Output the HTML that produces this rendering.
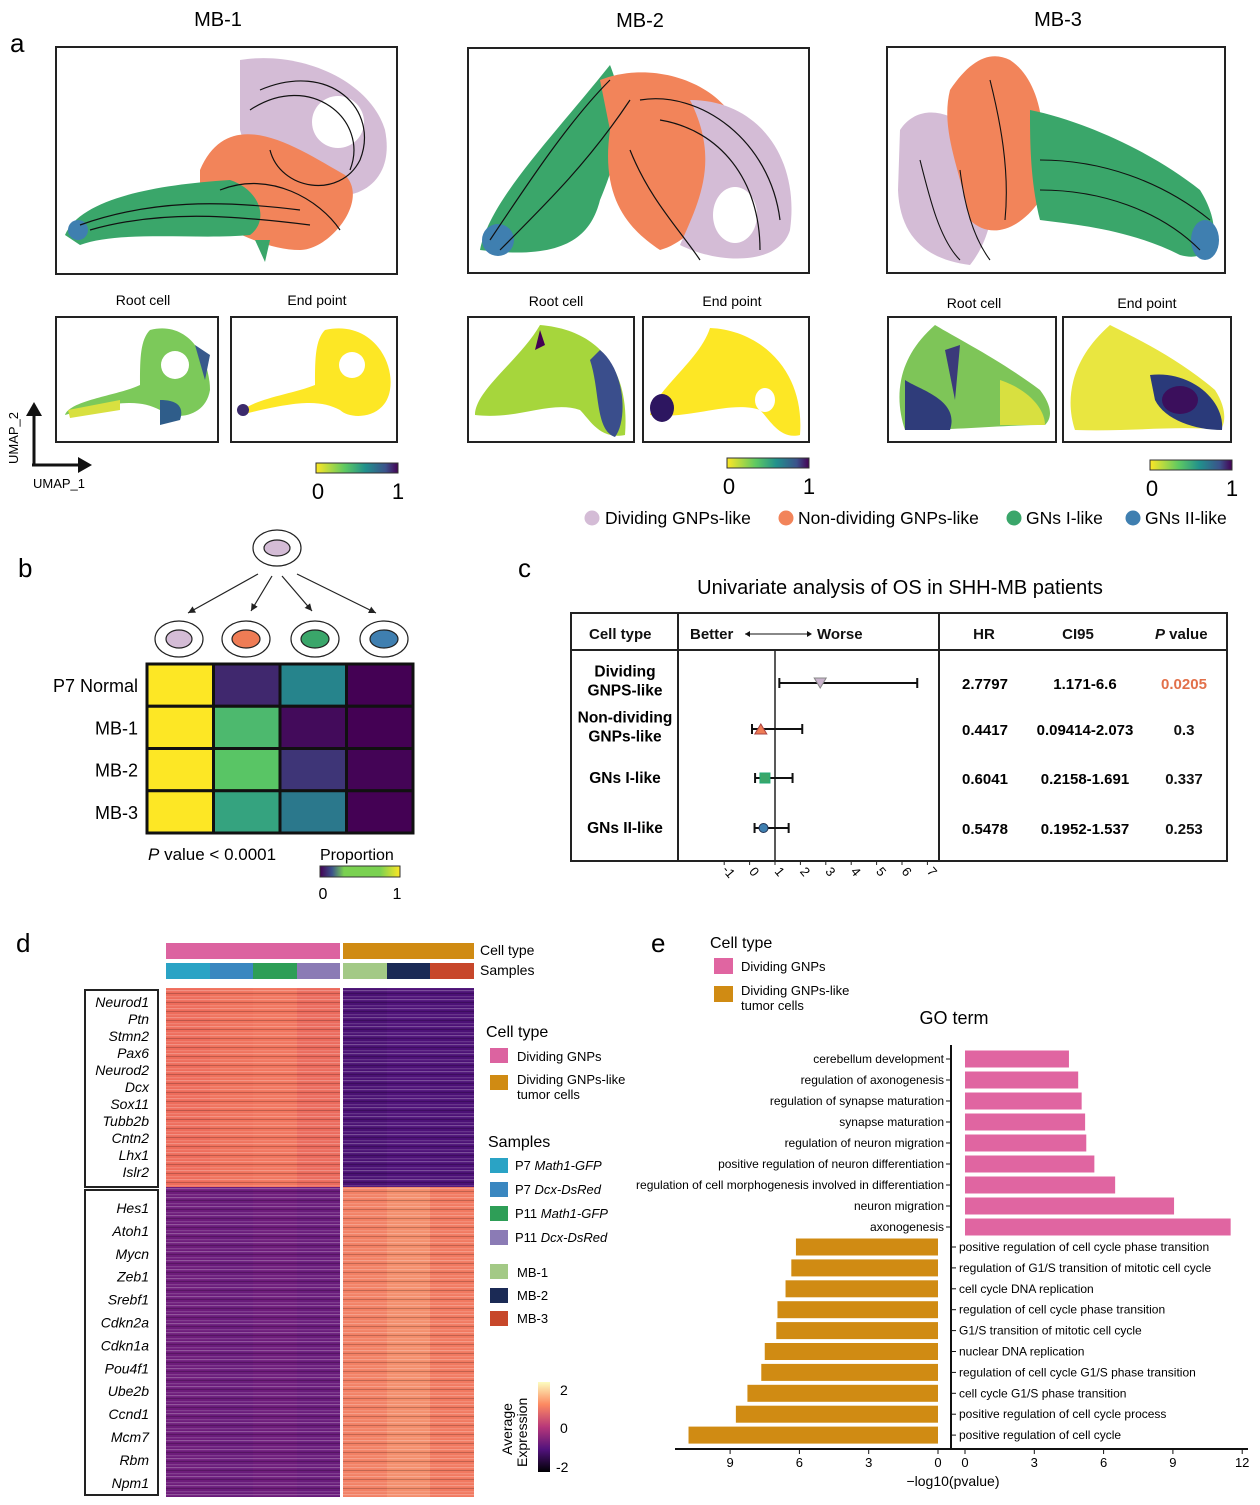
<!DOCTYPE html>
<html><head><meta charset="utf-8"><style>
body{margin:0;background:#fff;}
svg{display:block;font-family:"Liberation Sans",Arial,sans-serif;}
</style></head><body>
<svg id="fig" width="1260" height="1505" viewBox="0 0 1260 1505" xmlns="http://www.w3.org/2000/svg">
<defs>
<linearGradient id="vir" x1="0" x2="1"><stop offset="0" stop-color="#fde725"/><stop offset="0.35" stop-color="#5ec962"/><stop offset="0.6" stop-color="#21918c"/><stop offset="0.85" stop-color="#3b528b"/><stop offset="1" stop-color="#440154"/></linearGradient>
<linearGradient id="virb" x1="0" x2="1"><stop offset="0" stop-color="#440154"/><stop offset="0.15" stop-color="#3b528b"/><stop offset="0.3" stop-color="#7ad151"/><stop offset="0.75" stop-color="#7ad151"/><stop offset="1" stop-color="#fde725"/></linearGradient>
<linearGradient id="mag" x1="0" y1="1" x2="0" y2="0"><stop offset="0" stop-color="#000004"/><stop offset="0.25" stop-color="#51127c"/><stop offset="0.5" stop-color="#b73779"/><stop offset="0.75" stop-color="#fc8961"/><stop offset="1" stop-color="#fcfdbf"/></linearGradient>
<pattern id="stripes" width="10" height="9" patternUnits="userSpaceOnUse"><rect x="0" y="0" width="10" height="1.2" fill="#fff" opacity="0.25"/><rect x="0" y="3" width="10" height="1" fill="#000" opacity="0.2"/><rect x="0" y="6" width="10" height="1.3" fill="#fff" opacity="0.15"/></pattern>
<marker id="ah" markerWidth="8" markerHeight="8" refX="6" refY="3" orient="auto"><path d="M0,0 L6,3 L0,6 z" fill="#222"/></marker>
</defs>

<!-- Panel a -->
<g font-size="20">
<text x="10" y="52" font-size="26">a</text>
<text x="218" y="26" text-anchor="middle">MB-1</text>
<text x="640" y="27" text-anchor="middle">MB-2</text>
<text x="1058" y="26" text-anchor="middle">MB-3</text>

<g>
<rect x="56" y="47" width="341" height="227" fill="#fff" stroke="#222" stroke-width="2"/>
<path d="M240,60 C300,50 370,80 385,130 C395,180 360,200 330,195 C300,190 250,170 240,130 Z" fill="#d4bcd6"/>
<path d="M200,170 C230,100 300,150 345,175 C370,200 330,250 300,250 C270,250 240,235 200,215 Z" fill="#f2845a"/>
<path d="M65,235 C80,200 150,185 230,180 C260,190 270,220 250,235 C200,240 120,230 80,245 Z" fill="#3aa66a"/>
<circle cx="78" cy="230" r="10" fill="#3f7fb0"/>
<path d="M255,240 L265,262 L270,240 Z" fill="#3aa66a"/>
<circle cx="338" cy="122" r="26" fill="#fff"/>
<g fill="none" stroke="#111" stroke-width="1.2">
<path d="M80,225 C150,200 220,200 300,210"/><path d="M90,230 C160,210 230,215 310,225"/><path d="M260,90 C330,60 380,110 360,160 C340,200 280,190 270,150"/><path d="M250,110 C310,70 370,120 350,170"/><path d="M220,190 C270,170 320,200 340,230"/>
</g></g>

<g>
<rect x="468" y="48" width="341" height="225" fill="#fff" stroke="#222" stroke-width="2"/>
<path d="M480,250 C490,200 550,140 610,65 C620,90 630,130 600,200 C590,240 560,260 480,250 Z" fill="#3aa66a"/>
<path d="M600,80 C650,60 720,80 740,130 C745,170 700,240 660,250 C630,230 600,200 610,130 Z" fill="#f2845a"/>
<path d="M690,100 C760,100 800,160 790,230 C780,265 720,265 680,245 C700,200 720,160 690,100 Z" fill="#d4bcd6"/>
<ellipse cx="735" cy="215" rx="22" ry="28" fill="#fff"/>
<ellipse cx="498" cy="240" rx="16" ry="16" fill="#3f7fb0"/>
<g fill="none" stroke="#111" stroke-width="1.2">
<path d="M490,240 C530,180 570,120 610,80"/><path d="M500,250 C550,200 590,160 630,100"/><path d="M640,100 C700,90 770,140 780,220"/><path d="M660,120 C720,130 760,180 760,250"/><path d="M630,150 C650,200 680,230 700,260"/>
</g></g>

<g>
<rect x="887" y="47" width="338" height="226" fill="#fff" stroke="#222" stroke-width="2"/>
<path d="M900,130 C920,100 960,110 990,150 C1000,200 990,240 970,265 C930,260 900,240 898,190 Z" fill="#d4bcd6"/>
<path d="M950,90 C970,60 990,50 1010,60 C1040,80 1050,130 1040,200 C1020,230 990,240 970,220 C960,170 940,130 950,90 Z" fill="#f2845a"/>
<path d="M1030,110 C1080,120 1150,150 1200,190 C1225,230 1215,265 1180,255 C1130,230 1080,225 1040,220 C1030,180 1030,140 1030,110 Z" fill="#3aa66a"/>
<ellipse cx="1205" cy="240" rx="14" ry="20" fill="#3f7fb0"/>
<g fill="none" stroke="#111" stroke-width="1.1">
<path d="M1040,160 C1100,160 1160,180 1210,220"/><path d="M1040,190 C1100,190 1160,210 1200,250"/><path d="M990,80 C1000,120 1010,170 1005,220"/><path d="M920,160 C930,200 940,240 960,260"/><path d="M960,170 C965,210 975,240 990,260"/>
</g></g>

<g font-size="14" text-anchor="middle">
<text x="143" y="305">Root cell</text>
<text x="317" y="305">End point</text>
<text x="556" y="306">Root cell</text>
<text x="732" y="306">End point</text>
<text x="974" y="308">Root cell</text>
<text x="1147" y="308">End point</text>
</g>

<g><rect x="56" y="317" width="162" height="125" fill="#fff" stroke="#222" stroke-width="2"/>
<path d="M150,330 C190,320 210,360 210,390 C205,420 170,420 160,410 C140,400 120,400 65,415 C70,400 120,395 140,385 C140,360 140,340 150,330 Z" fill="#7cc95a"/><circle cx="175" cy="365" r="14" fill="#fff"/><path d="M160,400 C175,400 185,405 180,420 L160,425 Z" fill="#2f5d8a"/><path d="M195,345 L210,355 L205,380 Z" fill="#38598c"/><path d="M68,410 L120,400 L120,410 L70,418 Z" fill="#d8e040"/></g>
<g><rect x="231" y="317" width="166" height="125" fill="#fff" stroke="#222" stroke-width="2"/>
<path d="M325,330 C370,320 395,360 390,390 C385,420 350,420 340,410 C320,400 300,400 240,415 C245,400 290,395 315,385 C315,360 315,340 325,330 Z" fill="#fde725"/><circle cx="352" cy="365" r="13" fill="#fff"/><circle cx="243" cy="410" r="6" fill="#3b2a6b"/></g>

<g><rect x="468" y="317" width="166" height="125" fill="#fff" stroke="#222" stroke-width="2"/>
<path d="M540,325 C600,330 630,370 625,435 C600,440 590,420 580,410 C550,400 520,420 475,415 C475,390 520,360 540,325 Z" fill="#a6d63c"/><path d="M600,350 C625,370 628,420 615,437 C595,430 600,390 590,360 Z" fill="#3a4e8c"/><path d="M540,330 L545,345 L535,350 Z" fill="#440154"/></g>
<g><rect x="643" y="317" width="166" height="125" fill="#fff" stroke="#222" stroke-width="2"/>
<path d="M710,328 C760,330 805,370 800,435 C780,440 770,420 760,410 C730,400 690,420 650,415 C655,390 700,360 710,328 Z" fill="#fde725"/><ellipse cx="662" cy="408" rx="12" ry="14" fill="#2d1660"/><ellipse cx="765" cy="400" rx="10" ry="12" fill="#fff"/></g>

<g><rect x="888" y="317" width="168" height="125" fill="#fff" stroke="#222" stroke-width="2"/>
<path d="M935,325 C960,340 1000,360 1040,390 C1055,410 1050,420 1045,425 C1000,425 960,430 905,430 C895,400 895,360 935,325 Z" fill="#7ec558"/><path d="M905,380 C920,390 960,400 950,430 L905,430 Z" fill="#2f3c7a"/><path d="M1000,380 C1030,390 1045,410 1045,425 L1000,425 Z" fill="#d8e040"/><path d="M945,350 L960,345 L955,400 Z" fill="#3b3a7a"/></g>
<g><rect x="1063" y="317" width="168" height="125" fill="#fff" stroke="#222" stroke-width="2"/>
<path d="M1110,325 C1140,340 1180,360 1215,390 C1228,410 1225,425 1220,430 C1180,425 1130,432 1075,430 C1065,400 1070,360 1110,325 Z" fill="#e9e640"/><path d="M1150,375 C1190,370 1225,400 1222,430 C1195,430 1165,420 1155,400 Z" fill="#2a3a7a"/><ellipse cx="1180" cy="400" rx="18" ry="14" fill="#3b0f5c"/></g>

<g>
<line x1="34" y1="465" x2="34" y2="412" stroke="#111" stroke-width="3"/><path d="M26,416 L34,402 L42,416 Z" fill="#111"/>
<line x1="32" y1="465" x2="80" y2="465" stroke="#111" stroke-width="3"/><path d="M78,457 L92,465 L78,473 Z" fill="#111"/>
<text x="18" y="464" font-size="13" transform="rotate(-90 18 464)">UMAP_2</text>
<text x="33" y="488" font-size="13">UMAP_1</text></g>

<g><rect x="316" y="463" width="82" height="10" fill="url(#vir)" stroke="#333"/><text x="318" y="499" font-size="22" text-anchor="middle">0</text><text x="398" y="499" font-size="22" text-anchor="middle">1</text></g>
<g><rect x="727" y="458" width="82" height="10" fill="url(#vir)" stroke="#333"/><text x="729" y="494" font-size="22" text-anchor="middle">0</text><text x="809" y="494" font-size="22" text-anchor="middle">1</text></g>
<g><rect x="1150" y="460" width="82" height="10" fill="url(#vir)" stroke="#333"/><text x="1152" y="496" font-size="22" text-anchor="middle">0</text><text x="1232" y="496" font-size="22" text-anchor="middle">1</text></g>

<g font-size="17.5">
<circle cx="592" cy="518" r="7.5" fill="#d4bcd6"/><text x="605" y="524">Dividing GNPs-like</text>
<circle cx="786" cy="518" r="7.5" fill="#f2845a"/><text x="798" y="524">Non-dividing GNPs-like</text>
<circle cx="1014" cy="518" r="7.5" fill="#3aa66a"/><text x="1026" y="524">GNs I-like</text>
<circle cx="1133" cy="518" r="7.5" fill="#3f7fb0"/><text x="1145" y="524">GNs II-like</text>
</g>
</g>

<!-- Panel b -->
<g id="panelb">
<text x="18" y="577" font-size="26">b</text>
<g stroke="#222" fill="none" stroke-width="1.2">
<ellipse cx="277" cy="548" rx="24" ry="18"/><ellipse cx="277" cy="548" rx="13" ry="8" fill="#d4bcd6"/>
<line x1="258" y1="574" x2="188" y2="613" marker-end="url(#ah)"/><line x1="272" y1="576" x2="251" y2="611" marker-end="url(#ah)"/><line x1="282" y1="576" x2="312" y2="611" marker-end="url(#ah)"/><line x1="297" y1="574" x2="376" y2="613" marker-end="url(#ah)"/>
<ellipse cx="179" cy="639" rx="24" ry="18"/><ellipse cx="179" cy="639" rx="13" ry="9" fill="#d4bcd6"/>
<ellipse cx="246" cy="639" rx="24" ry="18"/><ellipse cx="246" cy="639" rx="14" ry="9" fill="#ef7c55"/>
<ellipse cx="315" cy="639" rx="24" ry="18"/><ellipse cx="315" cy="639" rx="14" ry="9" fill="#3aa66a"/>
<ellipse cx="384" cy="639" rx="24" ry="18"/><ellipse cx="384" cy="639" rx="14" ry="9" fill="#3f7fb0"/>
</g>
<g id="bheat"></g>
<text x="148" y="860" font-size="17"><tspan font-style="italic">P</tspan> value &lt; 0.0001</text>
<g><text x="320" y="860" font-size="16">Proportion</text><rect x="320" y="866" width="80" height="11" fill="url(#virb)" stroke="#333"/><text x="323" y="899" font-size="16" text-anchor="middle">0</text><text x="397" y="899" font-size="16" text-anchor="middle">1</text></g>
</g>

<!-- Panel c -->
<g id="panelc">
<text x="518" y="577" font-size="26">c</text>
<text x="900" y="594" font-size="20" text-anchor="middle">Univariate analysis of OS in SHH-MB patients</text>
<rect x="571" y="613" width="656" height="248" fill="none" stroke="#222" stroke-width="2"/>
<line x1="571" y1="650" x2="1227" y2="650" stroke="#222" stroke-width="2"/>
<line x1="678" y1="613" x2="678" y2="861" stroke="#222" stroke-width="2"/>
<line x1="939" y1="613" x2="939" y2="861" stroke="#222" stroke-width="2"/>
<g font-size="15" font-weight="bold" fill="#111">
<text x="589" y="639">Cell type</text>
<text x="690" y="639">Better</text>
<line x1="745" y1="634" x2="810" y2="634" stroke="#111" stroke-width="1"/><path d="M745,634 l5,-3 v6 z M812,634 l-5,-3 v6 z" fill="#111"/>
<text x="817" y="639">Worse</text>
<text x="984" y="639" text-anchor="middle">HR</text>
<text x="1078" y="639" text-anchor="middle">CI95</text>
<text x="1155" y="639"><tspan font-style="italic">P</tspan>  value</text>
</g>
<g id="forest"></g>
</g>

<!-- Panel d -->
<g id="paneld">
<text x="16" y="952" font-size="26">d</text>
<g id="dheat"></g>
<text x="480" y="955" font-size="14">Cell type</text>
<text x="480" y="975" font-size="14">Samples</text>
<rect x="85" y="990" width="73" height="197" fill="none" stroke="#222" stroke-width="2"/>
<rect x="85" y="1190" width="73" height="305" fill="none" stroke="#222" stroke-width="2"/>
<g id="genes" font-size="14" font-style="italic" text-anchor="end"></g>
<g font-size="13">
<text x="486" y="1037" font-size="16">Cell type</text>
<rect x="490" y="1048" width="18" height="15" fill="#dc63a0"/><text x="517" y="1061">Dividing GNPs</text>
<rect x="490" y="1075" width="18" height="15" fill="#d08b13"/><text x="517" y="1084">Dividing GNPs-like</text><text x="517" y="1099">tumor cells</text>
<text x="488" y="1147" font-size="16">Samples</text>
<rect x="490" y="1158" width="18" height="15" fill="#2aa3c5"/><text x="515" y="1170">P7 <tspan font-style="italic">Math1-GFP</tspan></text>
<rect x="490" y="1182" width="18" height="15" fill="#3a87c0"/><text x="515" y="1194">P7 <tspan font-style="italic">Dcx-DsRed</tspan></text>
<rect x="490" y="1206" width="18" height="15" fill="#2e9e57"/><text x="515" y="1218">P11 <tspan font-style="italic">Math1-GFP</tspan></text>
<rect x="490" y="1230" width="18" height="15" fill="#8b7bb5"/><text x="515" y="1242">P11 <tspan font-style="italic">Dcx-DsRed</tspan></text>
<rect x="490" y="1264" width="18" height="15" fill="#a3c986"/><text x="517" y="1277">MB-1</text>
<rect x="490" y="1288" width="18" height="15" fill="#1b2a55"/><text x="517" y="1300">MB-2</text>
<rect x="490" y="1311" width="18" height="15" fill="#c7472a"/><text x="517" y="1323">MB-3</text>
</g>
<g>
<rect x="538" y="1382" width="12" height="90" fill="url(#mag)"/>
<text x="560" y="1395" font-size="14">2</text><text x="560" y="1433" font-size="14">0</text><text x="556" y="1472" font-size="14">-2</text>
<text x="512" y="1455" font-size="14" transform="rotate(-90 512 1455)">Average</text>
<text x="527" y="1467" font-size="14" transform="rotate(-90 527 1467)">Expression</text>
</g>
</g>

<!-- Panel e -->
<g id="panele">
<text x="651" y="952" font-size="26">e</text>
<g font-size="13">
<text x="710" y="948" font-size="16">Cell type</text>
<rect x="714" y="958" width="19" height="16" fill="#e065a1"/><text x="741" y="971">Dividing GNPs</text>
<rect x="714" y="986" width="19" height="16" fill="#d08b13"/><text x="741" y="995">Dividing GNPs-like</text><text x="741" y="1010">tumor cells</text>
</g>
<text x="954" y="1024" font-size="18" text-anchor="middle">GO term</text>
<g id="gobars"></g>
</g>

<script>
// ===== Panel b data =====
var bRows = ["P7 Normal","MB-1","MB-2","MB-3"];
var bCols = ["dividing","non-dividing","gns-i","gns-ii"];
var bP7 = [1.0, 0.12, 0.45, 0.0];
var bMB1 = [1.0, 0.68, 0.03, 0.0];
var bMB2 = [1.0, 0.73, 0.16, 0.01];
var bMB3 = [1.0, 0.58, 0.4, 0.0];
var bVals = [bP7, bMB1, bMB2, bMB3];

// ===== Panel c data =====
var cLabels = [["Dividing","GNPS-like"],["Non-dividing","GNPs-like"],["GNs I-like"],["GNs II-like"]];
var cHR = [2.7797, 0.4417, 0.6041, 0.5478];
var cLo = [1.171, 0.09414, 0.2158, 0.1952];
var cHi = [6.6, 2.073, 1.691, 1.537];
var cCI = ["1.171-6.6","0.09414-2.073","0.2158-1.691","0.1952-1.537"];
var cP = ["0.0205","0.3","0.337","0.253"];
var cTicks = [-1,0,1,2,3,4,5,6,7];

// ===== Panel d data =====
var dTopVals = [0.74, 0.76, 0.77, 0.73, 0.22, 0.24, 0.23];
var dBotVals = [0.32, 0.31, 0.32, 0.31, 0.8, 0.84, 0.78];
var dTopGenes = ["Neurod1","Ptn","Stmn2","Pax6","Neurod2","Dcx","Sox11","Tubb2b","Cntn2","Lhx1","Islr2"];
var dBotGenes = ["Hes1","Atoh1","Mycn","Zeb1","Srebf1","Cdkn2a","Cdkn1a","Pou4f1","Ube2b","Ccnd1","Mcm7","Rbm","Npm1"];

// ===== Panel e data =====
var eUpTerms = ["cerebellum development","regulation of axonogenesis","regulation of synapse maturation","synapse maturation","regulation of neuron migration","positive regulation of neuron differentiation","regulation of cell morphogenesis involved in differentiation","neuron migration","axonogenesis"];
var eUpVals = [4.5, 4.9, 5.05, 5.2, 5.25, 5.6, 6.5, 9.05, 11.5];
var eDnTerms = ["positive regulation of cell cycle phase transition","regulation of G1/S transition of mitotic cell cycle","cell cycle DNA replication","regulation of cell cycle phase transition","G1/S transition of mitotic cell cycle","nuclear DNA replication","regulation of cell cycle G1/S phase transition","cell cycle G1/S phase transition","positive regulation of cell cycle process","positive regulation of cell cycle"];
var eDnVals = [6.15, 6.35, 6.6, 6.95, 7.0, 7.5, 7.65, 8.25, 8.75, 10.8];
var eTicks = [0,3,6,9,12];
var eTicksL = [0,3,6,9];

var NS = "http://www.w3.org/2000/svg";
function mk(tag, attrs, parent){var e=document.createElementNS(NS,tag);for(var k in attrs)e.setAttribute(k,attrs[k]);parent.appendChild(e);return e;}
function lerp(stops,t){t=Math.max(0,Math.min(1,t));var n=stops.length-1;var i=Math.min(n-1,Math.floor(t*n));var f=t*n-i;var a=stops[i],b=stops[i+1];return "rgb("+[0,1,2].map(function(j){return Math.round(a[j]+(b[j]-a[j])*f);}).join(",")+")";}
var viridis=[[68,1,84],[59,82,139],[33,145,140],[94,201,98],[253,231,37]];
var magma=[[20,10,50],[81,18,124],[183,55,121],[240,110,90],[250,200,140]];

// Panel b heatmap
(function(){
  var g=document.getElementById("bheat");
  var x0=147,y0=664,cw=66.5,rh=42.25;
  function bx(i){return x0+i*cw;} function by(i){return y0+i*rh;}
  bVals.forEach(function(row,r){
    var t=mk("text",{x:138,y:by(r)+rh/2+7,"font-size":18,"text-anchor":"end"},g);t.textContent=bRows[r];
    
    
    row.forEach(function(v,c){
      var rc=mk("rect",{x:bx(c),y:by(r),width:cw,height:rh,fill:lerp(viridis,v),stroke:"#111","stroke-width":3},g);
      
      
    });
  });
})();

// Panel c forest
(function(){
  var g=document.getElementById("forest");
  var rowsY=[683,729,778,828];
  function fx(v){return 775+(v-1)*25.4;}
  mk("line",{x1:fx(1),y1:650,x2:fx(1),y2:861,stroke:"#222","stroke-width":1.5},g);
  var colors=["#c9b3cc","#ef7c55","#3aa66a","#3f7fb0"];
  cHR.forEach(function(hr,i){
    var y=rowsY[i];
    var lines=cLabels[i];
    lines.forEach(function(s,k){var t=mk("text",{x:625,y:y+5+(k-(lines.length-1)/2)*19-(i<2?2:0),"font-size":15.5,"font-weight":"bold","text-anchor":"middle"},g);t.textContent=s;
      
      });
    var l=mk("line",{x1:fx(cLo[i]),y1:y,x2:fx(cHi[i]),y2:y,stroke:"#111","stroke-width":2},g);
    
    
    [cLo[i],cHi[i]].forEach(function(v){mk("line",{x1:fx(v),y1:y-5,x2:fx(v),y2:y+5,stroke:"#111","stroke-width":2},g);});
    var cx=fx(hr),m;
    if(i==0){m=mk("path",{d:"M"+(cx-6)+","+(y-5)+" L"+(cx+6)+","+(y-5)+" L"+cx+","+(y+5)+"Z",fill:colors[i],stroke:"#888"},g);}
    else if(i==1){m=mk("path",{d:"M"+(cx-6)+","+(y+5)+" L"+(cx+6)+","+(y+5)+" L"+cx+","+(y-5)+"Z",fill:colors[i],stroke:"#a44"},g);}
    else if(i==2){m=mk("rect",{x:cx-5,y:y-5,width:10,height:10,fill:colors[i],stroke:"#2a7"},g);}
    else {m=mk("circle",{cx:cx,cy:y,r:4.5,fill:colors[i],stroke:"#235"},g);}
    
    
    var a=mk("text",{x:985,y:y+6,"font-size":15,"font-weight":"bold","text-anchor":"middle"},g);a.textContent=hr.toFixed(4);
    
    
    var b=mk("text",{x:1085,y:y+6,"font-size":15,"font-weight":"bold","text-anchor":"middle"},g);b.textContent=cCI[i];
    
    
    var p=mk("text",{x:1184,y:y+6,"font-size":15,"font-weight":"bold","text-anchor":"middle",fill:(i==0?"#e2704a":"#111")},g);p.textContent=cP[i];
    
    
  });
  cTicks.forEach(function(v){
    var x=fx(v);
    mk("line",{x1:x,y1:861,x2:x,y2:865,stroke:"#222"},g);
    var t=mk("text",{x:x+2,y:873,"font-size":13,"text-anchor":"middle",transform:"rotate(50 "+x+" 873)"},g);t.textContent=v;
    
    
  });
})();

// Panel d heatmap
(function(){
  var g=document.getElementById("dheat");
  var xs=[166,210,253,297,343,387,430,474];
  var ctCols=["#dc63a0","#dc63a0","#dc63a0","#dc63a0","#d08b13","#d08b13","#d08b13"];
  var smCols=["#2aa3c5","#3a87c0","#2e9e57","#8b7bb5","#a3c986","#1b2a55","#c7472a"];
  function cx(i){return xs[i];} function cw(i){return (i==3?xs[4]-3:xs[i+1])-xs[i];}
  for(var i=0;i<7;i++){
    var a=mk("rect",{x:cx(i),y:943,width:cw(i),height:16,fill:ctCols[i]},g);
    
    
    var b=mk("rect",{x:cx(i),y:963,width:cw(i),height:16,fill:smCols[i]},g);
    
    
    var t=mk("rect",{x:cx(i),y:988,width:cw(i),height:199,fill:lerp(magma,dTopVals[i])},g);
    
    
    var u=mk("rect",{x:cx(i),y:1187,width:cw(i),height:310,fill:lerp(magma,dBotVals[i])},g);
    
    
    mk("rect",{x:cx(i),y:988,width:cw(i),height:509,fill:"url(#stripes)"},g);
  }
  var gg=document.getElementById("genes");
  dTopGenes.forEach(function(s,k){var t=mk("text",{x:149,y:1007+k*17},gg);t.textContent=s;
    
    });
  dBotGenes.forEach(function(s,k){var t=mk("text",{x:149,y:1213+k*22.9},gg);t.textContent=s;
    
    });
})();

// Panel e bars
(function(){
  var g=document.getElementById("gobars");
  var k=23.1;
  function xr(v){return 965+v*k;} function xl(v){return 938-v*k;}
  function yu(i){return 1059+i*21;} function yd(i){return 1247+i*20.9;}
  mk("line",{x1:951,y1:1045,x2:951,y2:1449,stroke:"#111","stroke-width":2},g);
  mk("line",{x1:675,y1:1449,x2:1248,y2:1449,stroke:"#111","stroke-width":2},g);
  eUpVals.forEach(function(v,i){
    var r=mk("rect",{x:xr(0),y:yu(i)-8.5,width:xr(v)-xr(0),height:17,fill:"#e065a1"},g);
    
    
    mk("line",{x1:946,y1:yu(i),x2:950,y2:yu(i),stroke:"#111"},g);
    var t=mk("text",{x:944,y:yu(i)+4,"font-size":12,"text-anchor":"end"},g);t.textContent=eUpTerms[i];
    
    
  });
  eDnVals.forEach(function(v,i){
    var r=mk("rect",{x:xl(v),y:yd(i)-8.5,width:xl(0)-xl(v),height:17,fill:"#d08b13"},g);
    
    
    mk("line",{x1:952,y1:yd(i),x2:956,y2:yd(i),stroke:"#111"},g);
    var t=mk("text",{x:959,y:yd(i)+4,"font-size":12},g);t.textContent=eDnTerms[i];
    
    
  });
  eTicks.forEach(function(v){
    mk("line",{x1:xr(v),y1:1449,x2:xr(v),y2:1454,stroke:"#111"},g);
    var t=mk("text",{x:xr(v),y:1467,"font-size":13,"text-anchor":"middle"},g);t.textContent=v;
    
    
  });
  eTicksL.forEach(function(v){
    mk("line",{x1:xl(v),y1:1449,x2:xl(v),y2:1454,stroke:"#111"},g);
    var t=mk("text",{x:xl(v),y:1467,"font-size":13,"text-anchor":"middle"},g);t.textContent=v;
    
    
  });
  var xt=mk("text",{x:953,y:1486,"font-size":14,"text-anchor":"middle"},g);xt.textContent="\u2212log10(pvalue)";
  
  
})();
</script>
</svg>
</body></html>
